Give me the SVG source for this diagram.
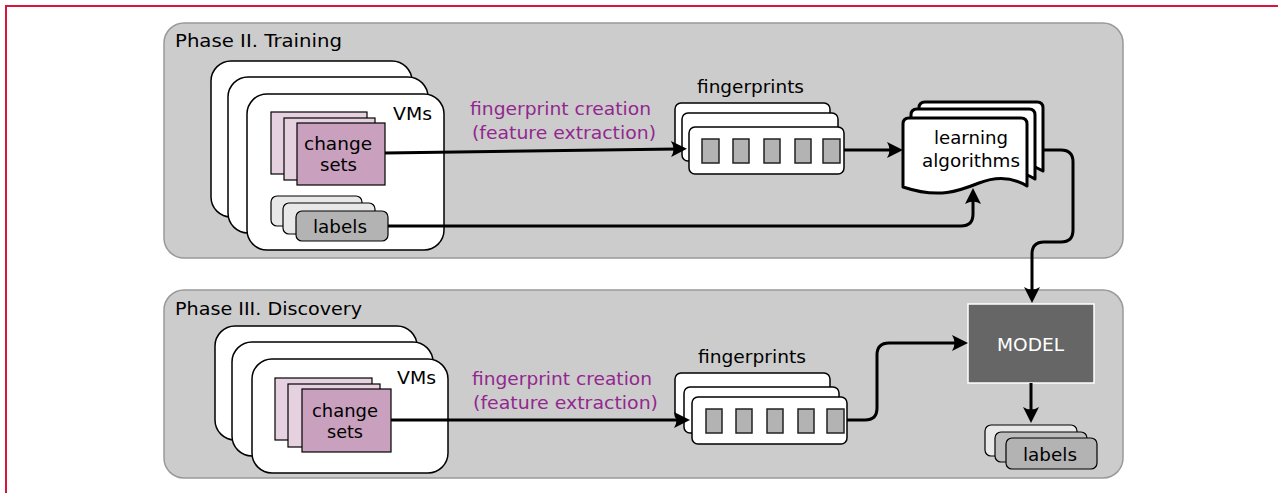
<svg xmlns="http://www.w3.org/2000/svg" width="1278" height="493" viewBox="0 0 1278 493">
  <style>
    text { font-family: "DejaVu Sans", Verdana, sans-serif; font-size: 18px; fill: #000; }
    .purple { fill: #93278f; }
    .white { fill: #fff; }
    .panel { fill: #cccccc; stroke: #999999; stroke-width: 1.5; }
    .vm { fill: #fff; stroke: #000; stroke-width: 1.5; }
    .cs-back { fill: #e5d1df; stroke: #000; stroke-width: 1.2; }
    .cs-front { fill: #c9a0bd; stroke: #000; stroke-width: 1.2; }
    .lb-light { fill: #e8e8e8; stroke: #000; stroke-width: 1.2; }
    .lb-mid { fill: #bdbdbd; stroke: #000; stroke-width: 1.2; }
    .lb-dark { fill: #b3b3b3; stroke: #000; stroke-width: 1.2; }
    .fp { fill: #fff; stroke: #000; stroke-width: 1.5; }
    .cell { fill: #b3b3b3; stroke: #222; stroke-width: 1.5; }
    .doc { fill: #fff; stroke: #000; stroke-width: 3; stroke-linejoin: round; }
    .conn { fill: none; stroke: #000; stroke-width: 3; marker-end: url(#ah); }
  </style>
  <defs>
    <marker id="ah" markerUnits="userSpaceOnUse" markerWidth="20" markerHeight="20" refX="6" refY="8" orient="auto" overflow="visible">
      <path d="M16,8 L0,0 Q5,8 0,16 Z" fill="#000"/>
    </marker>
  </defs>

  <!-- outer frame -->
  <path d="M6,493 V6 H1278" fill="none" stroke="#dc143c" stroke-width="2"/>

  <!-- phase panels -->
  <g id="phase2">
    <rect class="panel" x="164" y="23" width="959" height="235" rx="20"/>
    <text x="175" y="47" textLength="167" lengthAdjust="spacingAndGlyphs">Phase II. Training</text>
  </g>
  <g id="phase3">
    <rect class="panel" x="164" y="290" width="959" height="188" rx="20"/>
    <text x="175" y="315" textLength="187" lengthAdjust="spacingAndGlyphs">Phase III. Discovery</text>
  </g>

  <!-- Phase II: VMs -->
  <g id="vms2">
    <rect class="vm" x="211" y="61" width="201" height="156" rx="20"/>
    <rect class="vm" x="228" y="77" width="200" height="156" rx="20"/>
    <rect class="vm" x="247" y="94" width="197" height="156" rx="20"/>
    <text x="393" y="120" textLength="39" lengthAdjust="spacingAndGlyphs">VMs</text>
  </g>
  <g id="changesets2">
    <rect class="cs-back" x="271" y="112" width="96" height="62"/>
    <rect class="cs-back" x="284" y="118" width="91" height="62"/>
    <rect class="cs-front" x="297" y="123" width="88" height="62"/>
    <text x="304" y="150" textLength="68" lengthAdjust="spacingAndGlyphs">change</text>
    <text x="320" y="171" textLength="37" lengthAdjust="spacingAndGlyphs">sets</text>
  </g>
  <g id="labels2">
    <rect class="lb-light" x="271" y="196" width="91" height="30" rx="6"/>
    <rect class="lb-light" x="283" y="203" width="92" height="31" rx="6"/>
    <rect class="lb-dark" x="296" y="211" width="92" height="30" rx="6"/>
    <text x="313" y="233" textLength="54" lengthAdjust="spacingAndGlyphs">labels</text>
  </g>
  <g id="extract2">
    <text class="purple" x="470" y="115" textLength="181" lengthAdjust="spacingAndGlyphs">fingerprint creation</text>
    <text class="purple" x="472" y="139" textLength="184" lengthAdjust="spacingAndGlyphs">(feature extraction)</text>
  </g>
  <g id="fingerprints2">
    <text x="697" y="93" textLength="107" lengthAdjust="spacingAndGlyphs">fingerprints</text>
    <rect class="fp" x="675" y="103" width="155" height="47" rx="6"/>
    <rect class="fp" x="682" y="113" width="156" height="48" rx="6"/>
    <rect class="fp" x="689" y="127" width="155" height="47" rx="6"/>
    <rect class="cell" x="702" y="139" width="17" height="24"/>
    <rect class="cell" x="733" y="139" width="16" height="24"/>
    <rect class="cell" x="764" y="139" width="16" height="24"/>
    <rect class="cell" x="795" y="139" width="16" height="24"/>
    <rect class="cell" x="823" y="139" width="17" height="24"/>
  </g>
  <g id="learning">
    <path class="doc" d="M919,172 V108 Q919,102 925,102 H1037 Q1043,102 1043,108 V171 C1030,163 1015,160 995,168 C975,176 955,184 919,172 Z"/>
    <path class="doc" d="M911,180 V115 Q911,109 917,109 H1029 Q1035,109 1035,115 V179 C1022,171 1007,168 987,176 C967,184 947,192 911,180 Z"/>
    <path class="doc" d="M903,187 V124 Q903,118 909,118 H1021 Q1027,118 1027,124 V186 C1014,178 999,175 979,183 C959,191 939,199 903,187 Z"/>
    <text x="934" y="144" textLength="74" lengthAdjust="spacingAndGlyphs">learning</text>
    <text x="922" y="167" textLength="98" lengthAdjust="spacingAndGlyphs">algorithms</text>
  </g>

  <!-- Phase III: VMs -->
  <g id="vms3">
    <rect class="vm" x="215" y="326" width="202" height="114" rx="20"/>
    <rect class="vm" x="232" y="342" width="201" height="114" rx="20"/>
    <rect class="vm" x="252" y="359" width="196" height="114" rx="20"/>
    <text x="397" y="384" textLength="39" lengthAdjust="spacingAndGlyphs">VMs</text>
  </g>
  <g id="changesets3">
    <rect class="cs-back" x="275" y="378" width="97" height="62"/>
    <rect class="cs-back" x="288" y="384" width="92" height="63"/>
    <rect class="cs-front" x="302" y="389" width="89" height="63"/>
    <text x="312" y="417" textLength="66" lengthAdjust="spacingAndGlyphs">change</text>
    <text x="327" y="438" textLength="36" lengthAdjust="spacingAndGlyphs">sets</text>
  </g>
  <g id="extract3">
    <text class="purple" x="472" y="385" textLength="180" lengthAdjust="spacingAndGlyphs">fingerprint creation</text>
    <text class="purple" x="473" y="409" textLength="185" lengthAdjust="spacingAndGlyphs">(feature extraction)</text>
  </g>
  <g id="fingerprints3">
    <text x="698" y="363" textLength="108" lengthAdjust="spacingAndGlyphs">fingerprints</text>
    <rect class="fp" x="675" y="373" width="155" height="47" rx="6"/>
    <rect class="fp" x="684" y="387" width="155" height="46" rx="6"/>
    <rect class="fp" x="692" y="397" width="155" height="47" rx="6"/>
    <rect class="cell" x="706" y="409" width="16" height="24"/>
    <rect class="cell" x="736" y="409" width="16" height="24"/>
    <rect class="cell" x="767" y="409" width="16" height="24"/>
    <rect class="cell" x="798" y="409" width="16" height="24"/>
    <rect class="cell" x="827" y="409" width="17" height="24"/>
  </g>
  <g id="model">
    <rect x="968" y="304" width="126" height="79" fill="#666666" stroke="#ffffff" stroke-width="1.5"/>
    <text class="white" x="997" y="351" textLength="67" lengthAdjust="spacingAndGlyphs">MODEL</text>
  </g>
  <g id="labels3">
    <rect class="lb-light" x="985" y="425" width="92" height="31" rx="6"/>
    <rect class="lb-mid" x="995" y="432" width="92" height="30" rx="6"/>
    <rect class="lb-dark" x="1006" y="438" width="91" height="31" rx="6"/>
    <text x="1023" y="461" textLength="54" lengthAdjust="spacingAndGlyphs">labels</text>
  </g>

  <!-- connectors -->
  <g id="connectors">
    <path class="conn" d="M385,153 L677,149"/>
    <path class="conn" d="M388,226 H961 Q973,226 973,214 V198"/>
    <path class="conn" d="M844,150 H893"/>
    <path class="conn" d="M1043,150 H1061 Q1073,150 1073,162 V230 Q1073,242 1061,242 H1044 Q1032,242 1032,254 V293"/>
    <path class="conn" d="M391,420 H680"/>
    <path class="conn" d="M847,420 H865 Q877,420 877,408 V355 Q877,343 889,343 H958"/>
    <path class="conn" d="M1031,383 V413"/>
  </g>
</svg>
